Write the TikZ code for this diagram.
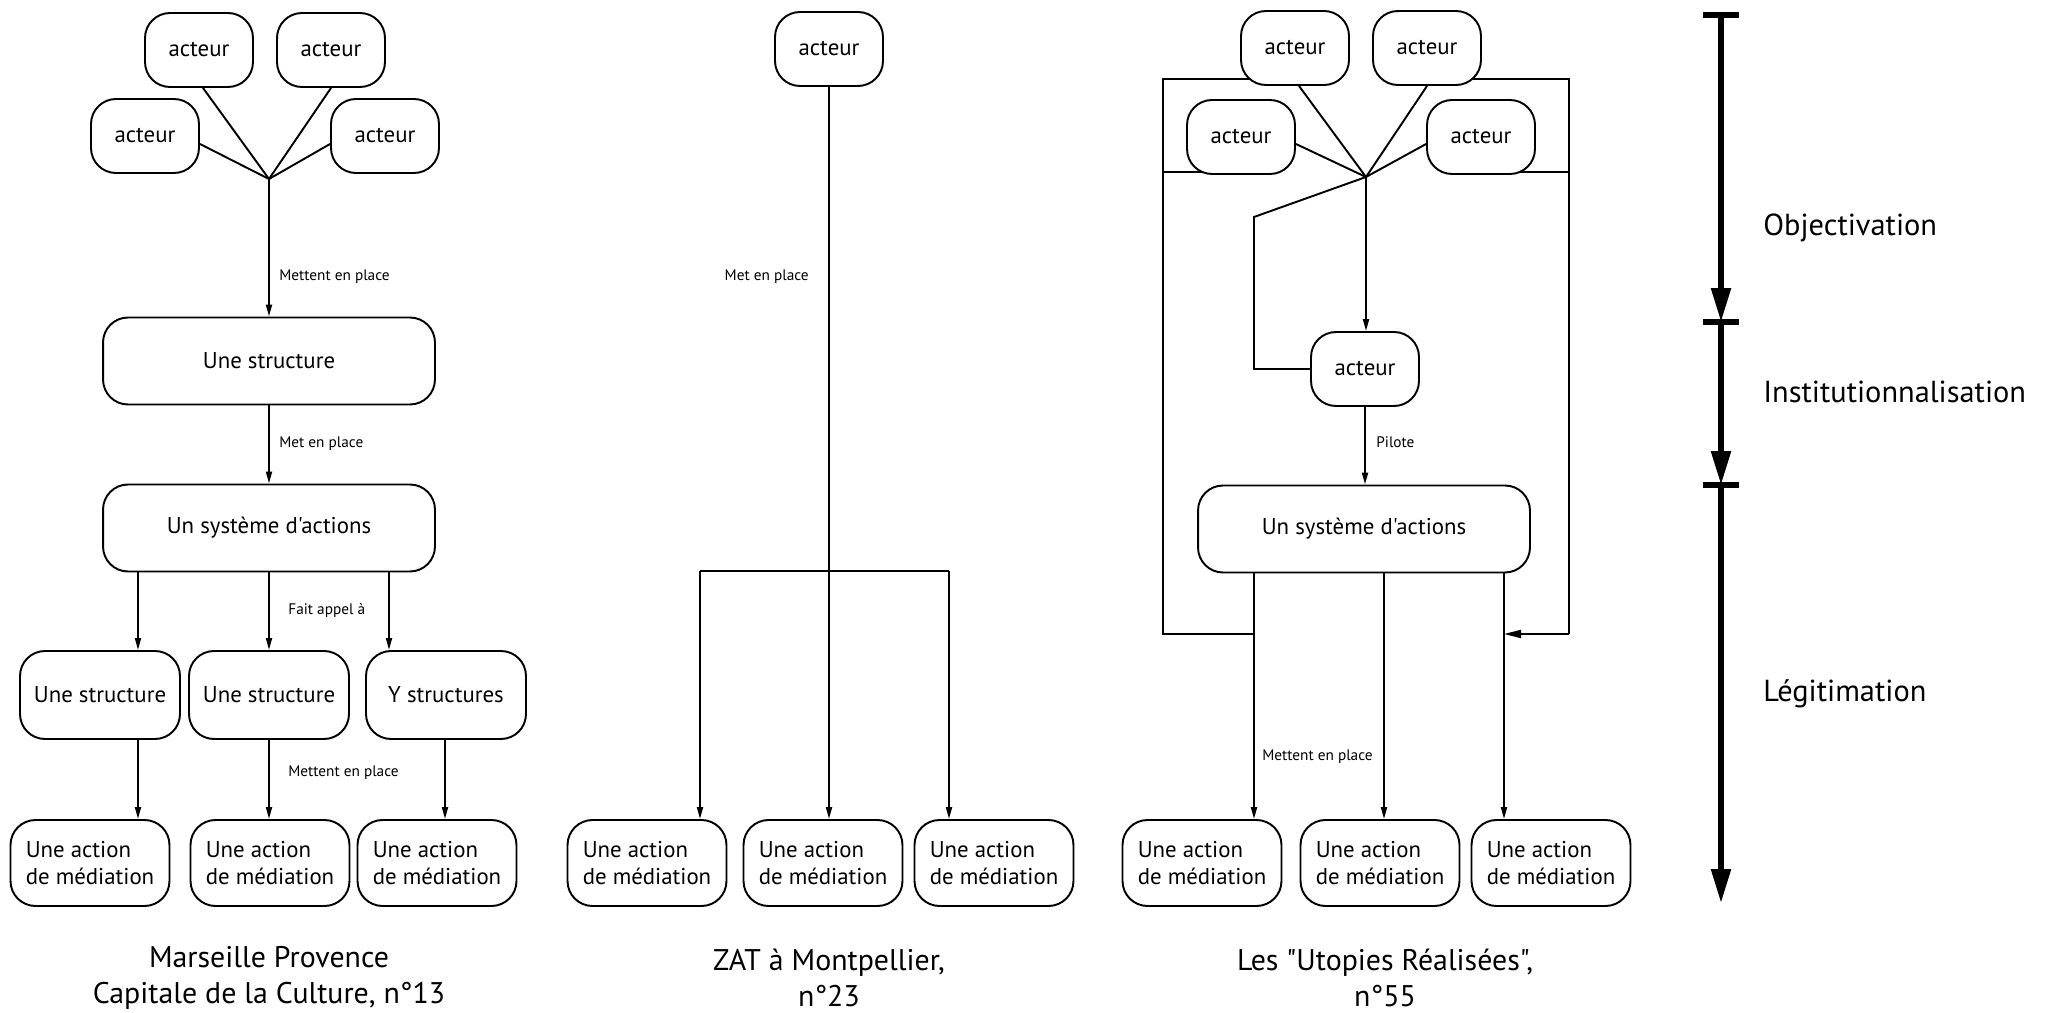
\documentclass[tikz,border=0pt]{standalone}
\usepackage{fontspec}
\setmainfont{PT Sans}[Ligatures=TeXOff]
\usetikzlibrary{arrows.meta,positioning,calc,backgrounds}

\begin{document}
\begin{tikzpicture}[x=0.02cm,y=-0.02cm,
  acteur/.style={draw,fill=white,line width=1.1pt,rounded corners=0.5cm,minimum width=2.16cm,minimum height=1.48cm,inner sep=0pt,font=\fontsize{13}{15.6}\selectfont},
  large/.style={acteur,minimum width=6.64cm,minimum height=1.74cm},
  moyen/.style={acteur,minimum width=3.2cm,minimum height=1.76cm},
  action/.style={acteur,minimum width=3.18cm,minimum height=1.72cm,align=left},
  lbl/.style={anchor=west,inner sep=0pt,font=\fontsize{8.7}{10.4}\selectfont},
  titre/.style={align=center,inner sep=0pt,font=\fontsize{17}{20.5}\selectfont},
  phase/.style={anchor=west,inner sep=0pt,font=\fontsize{17.3}{20}\selectfont},
  ln/.style={line width=1.1pt},
  ar/.style={ln,-{Triangle[length=2.4mm,width=1.2mm]}},
  grand/.style={ln,-{Triangle[length=3.4mm,width=1.6mm]}},
  axe/.style={line width=3.1pt,-{Triangle[length=6.8mm,width=3.8mm]}}]
  \useasboundingbox (0,0) rectangle (2046,1013);

  % Marseille Provence
  \node[acteur] (a1) at (199,50) {acteur};
  \node[acteur] (a2) at (331,50) {acteur};
  \node[acteur] (a3) at (145,136) {acteur};
  \node[acteur] (a4) at (385,136) {acteur};
  \coordinate (j1) at (269,179);
  \node[large] (s1) at (269,361) {Une structure};
  \node[large] (sys1) at (269,528) {Un système d'actions};
  \node[moyen] (st1) at (100,695) {Une structure};
  \node[moyen] (st2) at (269,695) {Une structure};
  \node[moyen] (st3) at (446,695) {Y structures};
  \node[action] (m1) at (90,863) {Une action\\de médiation};
  \node[action] (m2) at (270,863) {Une action\\de médiation};
  \node[action] (m3) at (437,863) {Une action\\de médiation};
  \coordinate (x1) at (138,0);
  \coordinate (x2) at (269,0);
  \coordinate (x3) at (389,0);
  \coordinate (x4) at (445,0);
  \draw[ln] ($(a1.south)+(4,0)$) -- (j1);
  \draw[ln] (a2.south) -- (j1);
  \draw[ln] ($(a3.east)+(0,8)$) -- (j1);
  \draw[ln] ($(a4.west)+(0,8)$) -- (j1);
  \draw[ar] (j1) -- (s1);
  \draw[ar] (s1) -- (sys1);
  \draw[ar] (sys1.south -| x1) -- (st1.north -| x1);
  \draw[ar] (sys1.south -| x2) -- (st2.north -| x2);
  \draw[ar] (sys1.south -| x3) -- (st3.north -| x3);
  \draw[ar] (st1.south -| x1) -- (m1.north -| x1);
  \draw[ar] (st2.south -| x2) -- (m2.north -| x2);
  \draw[ar] (st3.south -| x4) -- (m3.north -| x4);
  \node[lbl] at (279,277) {Mettent en place};
  \node[lbl] at (279,444) {Met en place};
  \node[lbl] at (288,611) {Fait appel à};
  \node[lbl] at (288,773) {Mettent en place};
  \node[titre] (t1) at (269,978) {Marseille Provence\\Capitale de la Culture, n°13};

  % ZAT
  \node[acteur] (b0) at (829,49) {acteur};
  \node[action] (n1) at (647,863) {Une action\\de médiation};
  \node[action] (n2) at (823,863) {Une action\\de médiation};
  \node[action] (n3) at (994,863) {Une action\\de médiation};
  \coordinate (g1) at (700,571);
  \coordinate (g3) at (949,571);
  \draw[ar] (b0) -- (b0 |- n2.north);
  \draw[ln] (g1) -- (g3);
  \draw[ar] (g1) -- (g1 |- n1.north);
  \draw[ar] (g3) -- (g3 |- n3.north);
  \node[lbl,anchor=east] at (809,277) {Met en place};
  \node[titre] (t2) at (829,978) {ZAT à Montpellier,\\n°23};

  % Utopies
  \node[acteur] (c1) at (1295,48) {acteur};
  \node[acteur] (c2) at (1427,48) {acteur};
  \node[acteur] (c3) at (1241,137) {acteur};
  \node[acteur] (c4) at (1481,137) {acteur};
  \coordinate (j3) at (1366,177);
  \node[acteur] (c5) at (1365,369) {acteur};
  \node[large] (sys3) at (1364,529) {Un système d'actions};
  \node[action] (p1) at (1202,863) {Une action\\de médiation};
  \node[action] (p2) at (1380,863) {Une action\\de médiation};
  \node[action] (p3) at (1551,863) {Une action\\de médiation};
  \coordinate (u1) at (1254,634);
  \coordinate (u2) at (1384,634);
  \coordinate (u3) at (1504,634);
  \coordinate (fl) at (1163,79);
  \coordinate (fr) at (1569,79);
  \coordinate (k) at (1254,217);
  \begin{scope}[on background layer]
    \draw[ln] (c1.center |- fl) -- (fl) -- (fl |- u1) -- (u1);
    \draw[ln] (c3.center |- 0,172) -- (fl |- 0,172);
    \draw[ln] (c2.center |- fr) -- (fr) -- (fr |- u3);
    \draw[ln] (c4.center |- 0,172) -- (fr |- 0,172);
  \end{scope}
  \draw[grand] (fr |- u3) -- (u3);
  \draw[ln] ($(c1.south)+(4,0)$) -- (j3);
  \draw[ln] (c2.south) -- (j3);
  \draw[ln] ($(c3.east)+(0,7)$) -- (j3);
  \draw[ln] ($(c4.west)+(0,7)$) -- (j3);
  \draw[ln] (j3) -- (k) |- (c5.west);
  \draw[ar] (j3) -- (j3 |- c5.north);
  \draw[ar] (c5) -- (c5 |- sys3.north);
  \draw[ar] (sys3.south -| u1) -- (p1.north -| u1);
  \draw[ar] (sys3.south -| u2) -- (p2.north -| u2);
  \draw[ar] (sys3.south -| u3) -- (p3.north -| u3);
  \node[lbl] at (1376,442) {Pilote};
  \node[lbl] at (1262,757) {Mettent en place};
  \node[titre] (t3) at (1385,978) {Les "Utopies Réalisées",\\n°55};

  % phases
  \coordinate (d0) at (1721,15);
  \coordinate (d1) at (1721,322);
  \coordinate (d2) at (1721,485);
  \coordinate (d3) at (1721,903);
  \foreach \d in {d0,d1,d2}
    \draw[line width=3.1pt] ($(\d)+(-18,0)$) -- ($(\d)+(18,0)$);
  \draw[axe] (d0) -- (d1);
  \draw[axe] (d1) -- (d2);
  \draw[axe] (d2) -- (d3);
  \node[phase] at (1763,228) {Objectivation};
  \node[phase] at (1763,392) {Institutionnalisation};
  \node[phase] at (1763,694) {Légitimation};
\end{tikzpicture}
\end{document}
